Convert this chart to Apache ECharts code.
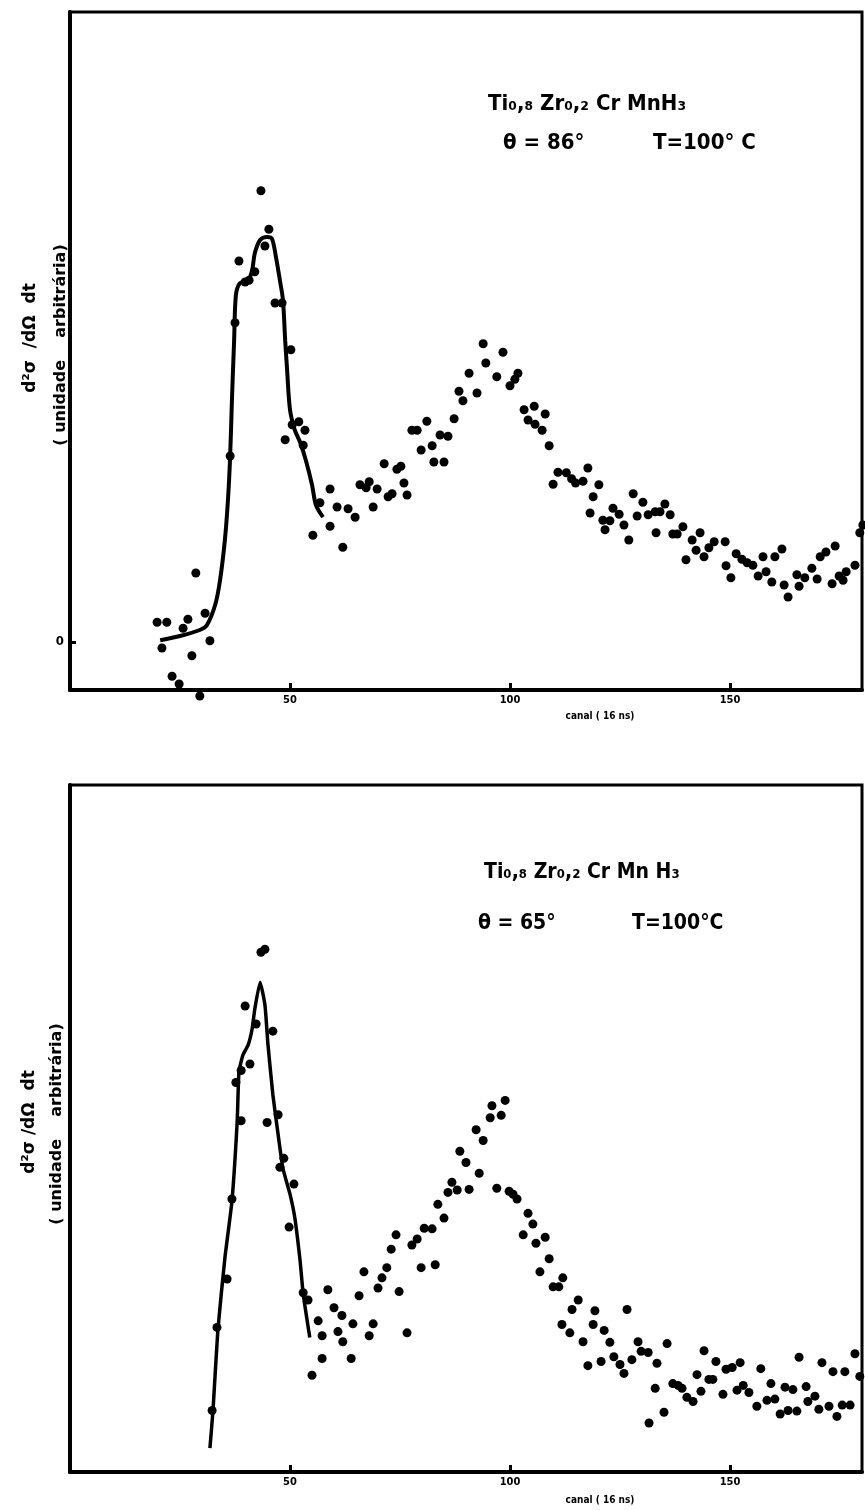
<!DOCTYPE html>
<html>
<head>
<meta charset="utf-8">
<script src="https://cdn.jsdelivr.net/npm/echarts@6/dist/echarts.min.js"></script>
<style>
html,body{margin:0;padding:0;background:#fff;}
#chart{width:865px;height:1510px;}
</style>
</head>
<body>
<div id="chart"></div>
<script>
// ---------- data ----------
const xTicks = [50, 100, 150];
const yTicksTop = [0];
const xName = 'canal ( 16 ns)';
const yLine1Top = 'd²σ  /dΩ  dt';
const yLine1Bot = 'd²σ /dΩ  dt';
const yLine2 = '( unidade    arbitrária)';
const formulaTop = 'Ti₀,₈ Zr₀,₂ Cr MnH₃';
const formulaBot = 'Ti₀,₈ Zr₀,₂ Cr Mn H₃';
const thetaTop = 'θ = 86°';
const tempTop = 'T=100° C';
const thetaBot = 'θ = 65°';
const tempBot = 'T=100°C';

// top panel (theta = 86 deg): measured points [channel, intensity]
const topPoints = [
 [19.8,3.3],[22.0,3.3],[26.8,3.8],[25.7,2.3],[30.7,4.8],[31.8,0.2],[20.9,-1.0],[27.7,-2.3],
 [23.2,-5.7],[24.8,-7.0],[29.5,-9.0],[28.6,11.5],[36.4,31.0],[37.5,53.2],[38.4,63.5],[39.8,60.0],
 [40.7,60.3],[42.0,61.7],[43.4,75.2],[45.2,68.8],[44.3,66.0],[46.6,56.5],[48.2,56.5],[50.2,48.7],
 [50.5,36.2],[48.9,33.7],[52.0,36.7],[53.4,35.3],[53.0,32.8],[56.8,23.2],[55.2,17.8],[59.1,25.5],
 [59.1,19.3],[60.7,22.5],[62.0,15.8],[63.2,22.2],[64.8,20.8],[65.9,26.2],[68.0,26.7],[67.3,25.7],
 [69.8,25.5],[68.9,22.5],[71.4,29.7],[72.3,24.2],[73.2,24.7],[74.3,28.8],[75.2,29.3],[75.9,26.5],
 [76.6,24.5],[77.7,35.3],[78.9,35.3],[81.1,36.8],[79.8,32.0],[82.3,32.7],[82.7,30.0],[84.1,34.5],
 [85.9,34.3],[85.0,30.0],[87.3,37.2],[88.4,41.8],[89.3,40.2],[90.7,44.8],[92.5,41.5],[93.9,49.7],
 [94.5,46.5],[97.0,44.2],[98.4,48.3],[100.0,42.7],[101.1,43.8],[101.8,44.8],[103.2,38.7],[105.5,39.3],
 [104.1,37.0],[105.7,36.3],[107.3,35.3],[108.0,38.0],[108.9,32.7],[110.9,28.3],[112.8,28.2],[114.0,27.2],
 [114.9,26.5],[109.8,26.3],[116.6,26.8],[117.7,29.0],[120.2,26.2],[118.9,24.2],[118.2,21.5],[121.1,20.3],
 [122.7,20.2],[121.6,18.7],[123.4,22.3],[124.8,21.3],[125.9,19.5],[128.0,24.7],[127.0,17.0],[130.2,23.3],
 [128.9,21.0],[131.4,21.2],[133.0,21.7],[134.1,21.7],[135.2,23.0],[136.4,21.2],[133.2,18.2],[137.0,18.0],
 [138.0,18.0],[139.3,19.2],[143.2,18.2],[141.4,17.0],[142.3,15.3],[140.0,13.7],[144.1,14.2],[145.2,15.7],
 [146.4,16.7],[148.9,16.7],[151.4,14.7],[149.1,12.7],[150.2,10.7],[152.7,13.8],[153.9,13.2],[155.2,12.8],
 [157.5,14.2],[160.2,14.2],[161.8,15.5],[156.4,11.0],[158.2,11.7],[159.5,10.0],[162.3,9.5],[163.2,7.5],
 [165.2,11.2],[165.7,9.3],[167.0,10.7],[169.8,10.5],[168.6,12.3],[170.5,14.2],[171.8,15.0],[173.9,16.0],
 [173.2,9.7],[174.8,11.0],[175.7,10.3],[176.4,11.7],[178.4,12.8],[179.5,18.2],[180.2,19.5]
];
// top panel: fitted curve
const topCurve = [
 [20.5,0.3],[25.0,1.0],[29.5,2.0],[31.1,2.8],[33.0,6.2],[34.1,10.3],[35.2,17.0],[35.9,23.7],
 [36.4,31.0],[36.8,40.3],[37.3,50.3],[37.7,57.8],[38.6,59.8],[40.5,60.3],[41.4,62.0],[42.0,64.8],
 [43.2,67.0],[44.8,67.5],[45.9,67.2],[46.8,64.2],[47.7,60.3],[48.4,57.0],[48.9,50.3],[49.3,45.8],
 [50.0,38.7],[51.1,35.3],[52.3,33.3],[53.6,30.3],[55.0,26.2],[55.9,22.8],[57.5,20.8]
];

// bottom panel (theta = 65 deg): measured points
const botPoints = [
 [43.4,87.0],[44.3,87.5],[39.8,78.0],[42.3,75.0],[46.1,73.8],[40.9,68.3],[38.9,67.2],[37.7,65.2],
 [38.9,58.8],[44.8,58.5],[47.3,59.8],[48.6,52.5],[47.7,51.0],[50.9,48.2],[36.8,45.7],[49.8,41.0],
 [35.7,32.3],[33.4,24.2],[32.3,10.3],[58.6,30.5],[53.0,30.0],[54.1,28.8],[56.4,25.3],[57.3,22.8],
 [57.3,19.0],[55.0,16.2],[60.0,27.5],[61.8,26.2],[60.9,23.5],[62.0,21.8],[64.3,24.8],[63.9,19.0],
 [65.7,29.5],[66.8,33.5],[68.9,24.8],[68.0,22.8],[70.0,30.8],[70.9,32.5],[72.0,34.2],[73.0,37.3],
 [74.1,39.7],[74.8,30.2],[76.6,23.3],[77.7,38.0],[78.9,39.0],[79.8,34.2],[80.5,40.8],[82.3,40.7],
 [83.0,34.7],[83.6,44.8],[85.0,42.5],[85.9,46.8],[86.8,48.5],[88.0,47.2],[88.6,53.7],[90.0,51.8],
 [90.7,47.3],[92.3,57.3],[93.0,50.0],[93.9,55.5],[95.5,59.3],[95.9,61.3],[98.0,59.7],[98.9,62.2],
 [97.0,47.5],[99.8,47.0],[100.7,46.5],[101.6,45.7],[104.1,43.3],[105.2,41.5],[103.0,39.7],[105.9,38.3],
 [108.0,39.3],[108.9,35.7],[106.8,33.5],[109.8,31.0],[111.1,31.0],[112.0,32.5],[114.1,27.2],[115.5,28.8],
 [111.8,24.7],[113.6,23.3],[119.3,27.0],[126.6,27.2],[118.9,24.7],[121.4,23.7],[116.6,21.8],[122.7,21.7],
 [117.7,17.8],[120.7,18.5],[123.6,19.3],[125.0,18.0],[125.9,16.5],[127.7,18.8],[129.1,21.8],[129.8,20.2],
 [131.4,20.0],[133.4,18.2],[135.7,21.5],[133.0,14.0],[131.6,8.2],[135.0,10.0],[137.0,14.8],[138.2,14.5],
 [139.1,14.0],[140.2,12.5],[141.6,11.8],[142.5,16.3],[143.4,13.5],[144.1,20.3],[145.2,15.5],[146.1,15.5],
 [146.8,18.5],[148.4,13.0],[149.1,17.2],[150.5,17.5],[152.3,18.3],[151.6,13.7],[153.0,14.5],[154.3,13.3],
 [156.1,11.0],[157.0,17.3],[158.4,12.0],[160.2,12.2],[159.3,14.8],[161.4,9.7],[163.2,10.3],[165.2,10.2],
 [162.5,14.2],[164.3,13.8],[165.7,19.2],[167.3,14.3],[167.7,11.8],[169.3,12.7],[170.9,18.3],[170.2,10.5],
 [172.5,11.0],[174.3,9.3],[175.5,11.2],[177.3,11.2],[173.4,16.8],[176.1,16.8],[178.4,19.8],[179.5,16.0]
];
// bottom panel: fitted curve
const botCurve = [
 [31.8,4.0],[32.5,10.3],[33.6,23.7],[35.2,35.8],[36.8,45.3],[38.0,58.7],[38.4,67.0],[39.3,69.8],
 [40.5,71.5],[41.4,74.2],[42.0,77.5],[43.2,82.0],[44.3,78.2],[45.0,71.5],[46.1,63.2],[47.3,56.5],
 [48.4,50.8],[50.0,46.5],[51.1,42.5],[52.3,35.3],[53.0,29.8],[54.5,22.5]
];

// ---------- chart ----------
const FONT = '"DejaVu Sans Condensed", "DejaVu Sans", sans-serif';
const FONT_WIDE = '"DejaVu Sans", sans-serif';
const chart = echarts.init(document.getElementById('chart'), null, {renderer: 'canvas'});

function xAxisCfg(gi) {
  return {
    gridIndex: gi, type: 'value', min: 0, max: 180,
    axisLine: {show: true, onZero: false, lineStyle: {color: '#000', width: 4}},
    axisTick: {show: true, inside: true, length: 7, lineStyle: {color: '#000', width: 3}, customValues: xTicks},
    axisLabel: {show: true, customValues: xTicks, margin: 5, color: '#000', fontFamily: FONT,
                fontWeight: 'bold', fontSize: 11},
    splitLine: {show: false}
  };
}

function txt(x, y, text, size, family, rot) {
  const el = {type: 'text', x: x, y: y,
    style: {text: text, font: 'bold ' + size + 'px ' + family, fill: '#000',
            textAlign: rot ? 'center' : 'left', textVerticalAlign: 'middle'}};
  if (rot) el.rotation = Math.PI / 2;
  return el;
}

const option = {
  backgroundColor: '#fff',
  animation: false,
  grid: [
    {left: 70, top: 12, width: 792, height: 678, show: true, borderColor: '#000', borderWidth: 3, backgroundColor: 'transparent'},
    {left: 70, top: 785, width: 792, height: 687, show: true, borderColor: '#000', borderWidth: 3, backgroundColor: 'transparent'}
  ],
  xAxis: [xAxisCfg(0), xAxisCfg(1)],
  yAxis: [
    {gridIndex: 0, type: 'value', min: -8, max: 105,
     axisLine: {show: true, onZero: false, lineStyle: {color: '#000', width: 4}},
     axisTick: {show: true, inside: true, length: 6, lineStyle: {color: '#000', width: 3}, customValues: yTicksTop},
     axisLabel: {show: true, customValues: yTicksTop, margin: 6, color: '#000', fontFamily: FONT, fontWeight: 'bold', fontSize: 13},
     splitLine: {show: false}},
    {gridIndex: 1, type: 'value', min: 0, max: 115,
     axisLine: {show: true, onZero: false, lineStyle: {color: '#000', width: 4}},
     axisTick: {show: false}, axisLabel: {show: false}, splitLine: {show: false}}
  ],
  series: [
    {type: 'line', xAxisIndex: 0, yAxisIndex: 0, data: topCurve, symbol: 'none', smooth: 0.3,
     lineStyle: {color: '#000', width: 4}, z: 3},
    {type: 'scatter', xAxisIndex: 0, yAxisIndex: 0, data: topPoints, symbol: 'circle', symbolSize: 9,
     clip: false, itemStyle: {color: '#000', opacity: 1}, z: 4},
    {type: 'line', xAxisIndex: 1, yAxisIndex: 1, data: botCurve, symbol: 'none', smooth: 0.15,
     lineStyle: {color: '#000', width: 3.5}, z: 3},
    {type: 'scatter', xAxisIndex: 1, yAxisIndex: 1, data: botPoints, symbol: 'circle', symbolSize: 9,
     clip: false, itemStyle: {color: '#000', opacity: 1}, z: 4}
  ],
  graphic: [
    // top panel texts
    txt(488, 104, formulaTop, 22, FONT),
    txt(503, 143, thetaTop, 22, FONT),
    txt(653, 143, tempTop, 22, FONT),
    txt(31, 338, yLine1Top, 17, FONT_WIDE, true),
    txt(61, 345, yLine2, 16, FONT_WIDE, true),
    {type: 'text', x: 600, y: 716, style: {text: xName, font: 'bold 10px ' + FONT, fill: '#000', textAlign: 'center', textVerticalAlign: 'middle'}},
    // bottom panel texts
    txt(484, 873, formulaBot, 21, FONT),
    txt(478, 924, thetaBot, 21, FONT),
    txt(632, 924, tempBot, 21, FONT),
    txt(30, 1122, yLine1Bot, 17, FONT_WIDE, true),
    txt(57, 1124, yLine2, 16, FONT_WIDE, true),
    {type: 'text', x: 600, y: 1500, style: {text: xName, font: 'bold 10px ' + FONT, fill: '#000', textAlign: 'center', textVerticalAlign: 'middle'}}
  ]
};
chart.setOption(option);
</script>
</body>
</html>
